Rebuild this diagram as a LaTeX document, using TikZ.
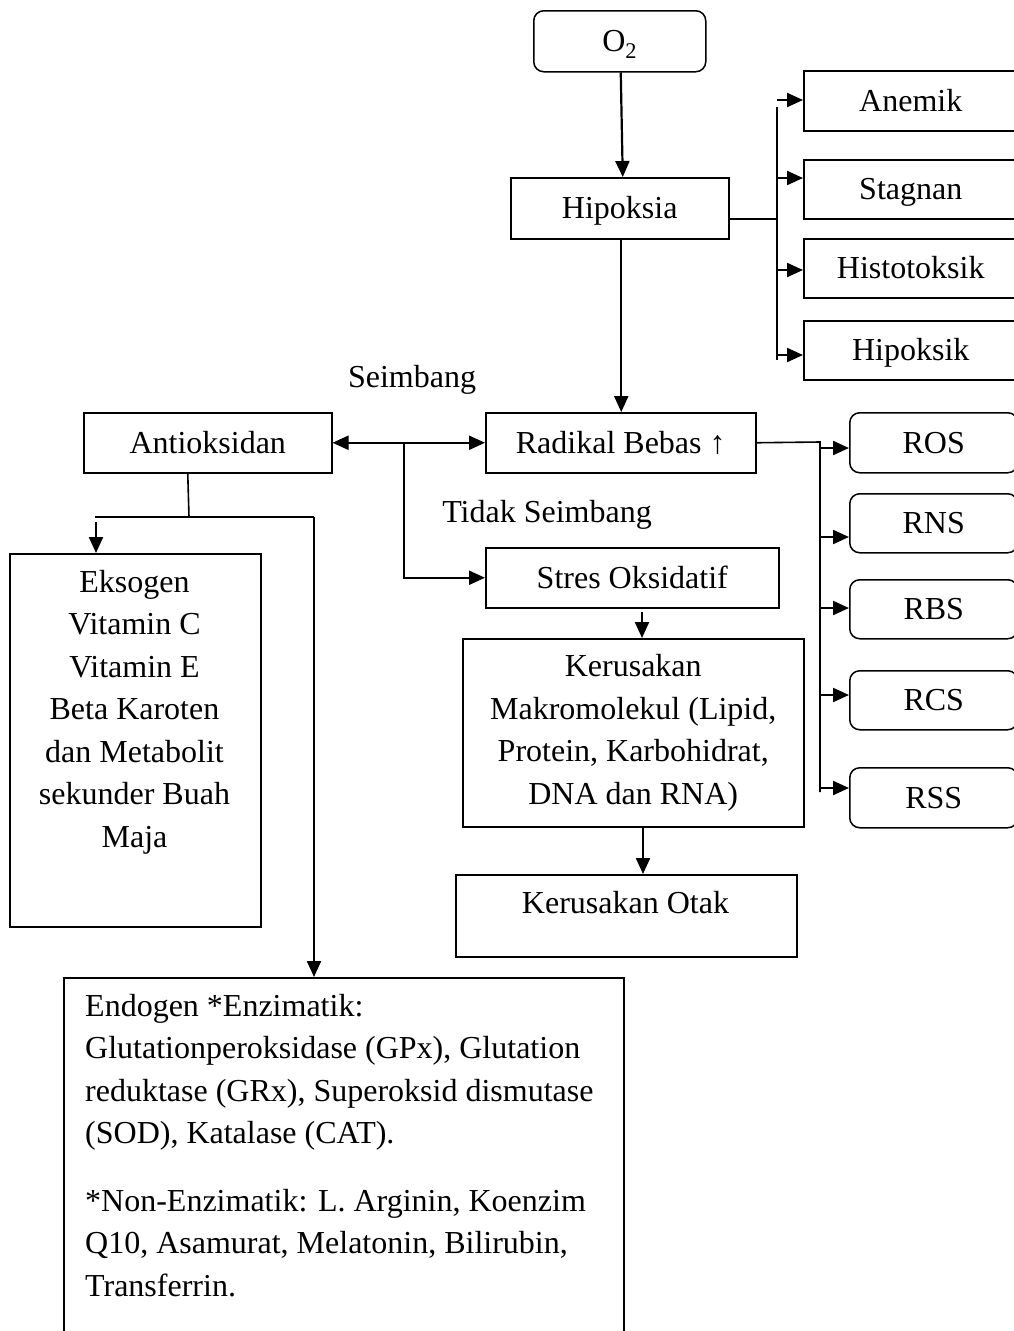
\documentclass[tikz,border=0pt]{standalone}
\usepackage{fontspec}
\setmainfont{Liberation Serif}
\usetikzlibrary{arrows.meta,calc}
\begin{document}
\begin{tikzpicture}[x=1pt,y=-1pt,
  font=\fontsize{32}{42.5}\selectfont,
  box/.style={draw, line width=1.5pt, inner sep=0pt, anchor=north west, align=center},
  sbox/.style={box, text height=21pt, text depth=0pt},
  rbox/.style={sbox, rounded corners=10pt},
  conn/.style={line width=2.2pt, -{Triangle[length=16pt,width=14pt]}},
  dconn/.style={line width=2.2pt, {Triangle[length=16pt,width=14pt]}-{Triangle[length=16pt,width=14pt]}},
  thinln/.style={line width=1.6pt},
  lbl/.style={inner sep=0pt, anchor=base},
]
\useasboundingbox (0,0) rectangle (1014,1331);
\clip (0,0) rectangle (1014,1331);

% top chain
\node[rbox, minimum width=172pt, minimum height=61pt] (o2) at (533,10) {O\textsubscript{2}};
\node[sbox, minimum width=218pt, minimum height=61pt] (hip) at (510,177) {Hipoksia};

% hypoxia types
\node[sbox, minimum width=214pt, minimum height=60pt] (ane) at (803,70) {Anemik};
\node[sbox, minimum width=214pt, minimum height=59pt] (sta) at (803,159) {Stagnan};
\node[sbox, minimum width=214pt, minimum height=59pt] (his) at (803,238) {Histotoksik};
\node[sbox, minimum width=214pt, minimum height=59pt] (hik) at (803,320) {Hipoksik};

% middle row
\node[sbox, minimum width=248pt, minimum height=60pt] (ant) at (83,412) {Antioksidan};
\node[sbox, minimum width=270pt, minimum height=60pt] (rad) at (485,412) {Radikal Bebas ↑};
\node[sbox, minimum width=293pt, minimum height=60pt] (str) at (485,547) {Stres Oksidatif};
\node[box, minimum width=341pt, minimum height=188pt] (mak) at (462,638)
  {Kerusakan\\Makromolekul (Lipid,\\Protein, Karbohidrat,\\DNA dan RNA)};
\node[box, minimum width=341pt, minimum height=82pt] (otk) at (455,874) {};
\node[lbl] (otkT) at (625.5,913) {Kerusakan Otak};

% radical species
\node[rbox, minimum width=168pt, minimum height=60pt] (ros) at (849,412) {ROS};
\node[rbox, minimum width=168pt, minimum height=59pt] (rns) at (849,493) {RNS};
\node[rbox, minimum width=168pt, minimum height=59pt] (rbs) at (849,579) {RBS};
\node[rbox, minimum width=168pt, minimum height=59pt] (rcs) at (849,670) {RCS};
\node[rbox, minimum width=168pt, minimum height=60pt] (rss) at (849,767) {RSS};

% antioxidants
\node[box, minimum width=251pt, minimum height=373pt] (eks) at (9,553) {};
\node[inner sep=0pt, anchor=north, align=center] (eksT) at (134.5,570)
  {Eksogen\\Vitamin C\\Vitamin E\\Beta Karoten\\dan Metabolit\\sekunder Buah\\Maja};
\node[box, minimum width=560pt, minimum height=380pt] (endo) at (63,977) {};
\node[inner sep=0pt, anchor=north west, align=left] (endoT) at (85,994)
  {Endogen *Enzimatik:\\
   Glutationperoksidase (GPx), Glutation\\
   reduktase (GRx), Superoksid dismutase\\
   (SOD), Katalase (CAT).\\[25pt]
   *Non-Enzimatik: L. Arginin, Koenzim\\
   Q10, Asamurat, Melatonin, Bilirubin,\\
   Transferrin.};

% labels
\node[lbl] (seim) at (412,387) {Seimbang};
\node[lbl] (tseim) at (547,522) {Tidak Seimbang};

% junction coordinates
\coordinate (hj) at (777,219);
\coordinate (hjt) at (777,107);
\coordinate (hjb) at (777,360);
\coordinate (ha) at (777,100);
\coordinate (hs) at (777,178);
\coordinate (hh) at (777,270);
\coordinate (hk) at (777,355);
\coordinate (rj) at (820,442);
\coordinate (rjb) at (820,792);
\coordinate (r1) at (820,448);
\coordinate (r2) at (820,537);
\coordinate (r3) at (820,608);
\coordinate (r4) at (820,695);
\coordinate (r5) at (820,788);
\coordinate (mj) at (404,442);
\coordinate (sm) at (642,612);
\coordinate (mo) at (643,826);
\coordinate (aj) at (189,517);
\coordinate (al) at (95,517);
\coordinate (ar) at (314,517);
\coordinate (ek) at (96,522);

% connectors
\draw[conn] ([xshift=1pt]o2.south) -- ([xshift=3pt]hip.north);
\draw[conn] ([xshift=1.5pt]hip.south) -- ([xshift=1.5pt]hip.south |- rad.north);
\draw[thinln] (hip.east |- hj) -- (hj);
\draw[thinln] (hjt) -- (hjb);
\draw[conn] (ha) -- (ha -| ane.west);
\draw[conn] (hs) -- (hs -| sta.west);
\draw[conn] (hh) -- (hh -| his.west);
\draw[conn] (hk) -- (hk -| hik.west);

\draw[dconn] (ant.east) -- (rad.west);
\draw[conn] (mj) |- (str.west);

\draw[thinln] (rad.east) -- (rj) -- (rjb);
\draw[conn] (r1) -- (r1 -| ros.west);
\draw[conn] (r2) -- (r2 -| rns.west);
\draw[conn] (r3) -- (r3 -| rbs.west);
\draw[conn] (r4) -- (r4 -| rcs.west);
\draw[conn] (r5) -- (r5 -| rss.west);

\draw[conn] (sm) -- (sm |- mak.north);
\draw[conn] (mo) -- (mo |- otk.north);

\draw[thinln] ([xshift=-20pt]ant.south) -- (aj);
\draw[thinln] (al) -- (ar);
\draw[conn] (ar) -- (ar |- endo.north);
\draw[conn] (ek) -- (ek |- eks.north);
\end{tikzpicture}
\end{document}
